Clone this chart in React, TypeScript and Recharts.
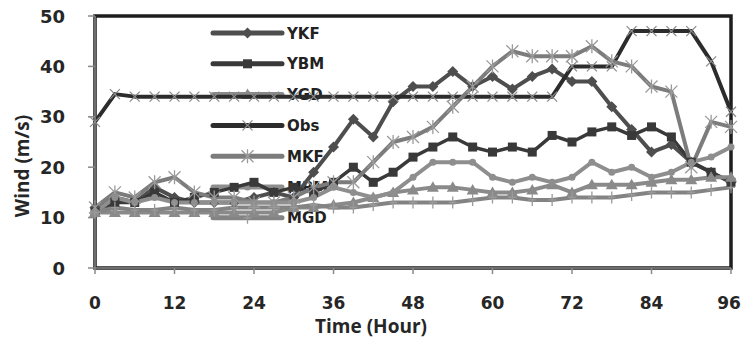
import React from 'react';
import { LineChart, Line, XAxis, YAxis, ReferenceArea, Legend, Label } from 'recharts';

// Forecast hour of each sample (3-hourly)
const hours = [0, 3, 6, 9, 12, 15, 18, 21, 24, 27, 30, 33, 36, 39, 42, 45, 48, 51, 54, 57, 60, 63, 66, 69, 72, 75, 78, 81, 84, 87, 90, 93, 96];

// Wind speed (m/s) per run
const ykf = [12, 14, 13, 16, 14, 13, 13, 13, 14, 15, 14, 19, 24, 29.5, 26, 33, 36, 36, 39, 36, 38, 35.5, 38, 39.5, 37, 37, 32, 27.5, 23, 24.5, 21, 19, 17];
const ybm = [11, 13, 13, 15, 13, 14, 15, 16, 17, 15, 16, 15, 17, 20, 17, 19, 22, 24, 26, 24, 23, 24, 23, 26.3, 25, 27, 28, 26.3, 28, 26, 21, 19, 17];
const ygd = [11, 11, 11, 11, 11, 11, 11, 11, 11, 11, 12, 12, 12.5, 13, 14, 15, 15.5, 16, 16, 15.5, 15, 15, 15.5, 16.5, 15, 16.5, 16.5, 16.5, 17, 17.5, 17.5, 18, 18];
const obs = [29, 34.5, 34, 34, 34, 34, 34, 34, 34, 34, 34, 34, 34, 34, 34, 34, 34, 34, 34, 34, 34, 34, 34, 34, 40, 40, 40, 47, 47, 47, 47, 41, 31];
const mkf = [12, 15, 14, 17, 18, 15, 14, 14, 13, 13, 14, 16, 17, 17, 21, 25, 26, 28, 32, 36, 40, 43, 42, 42, 42, 44, 41, 40, 36, 35, 20, 29, 28];
const mbm = [11, 14, 13, 14, 13, 13, 13, 13, 13, 13, 13, 14, 16, 15, 14, 15, 18, 21, 21, 21, 18, 17, 18, 17, 18, 21, 19, 20, 18, 19, 21, 22, 24];
const mgd = [11, 12, 11.5, 11.5, 12, 11.5, 11.5, 12, 12, 12, 12, 12.5, 12, 12, 12.5, 13, 13, 13, 13, 13.5, 14, 14, 13.5, 13.5, 14, 14, 14, 14.5, 15, 15, 15, 15.5, 16];

const xTicks = [0, 12, 24, 36, 48, 60, 72, 84, 96];
const yTicks = [0, 10, 20, 30, 40, 50];

type MarkerShape = 'diamond' | 'square' | 'triangle' | 'x' | 'star' | 'circle' | 'plus';

interface SeriesDef {
  key: string;
  color: string;
  markerColor: string;
  marker: MarkerShape;
  width: number;
}

const series: SeriesDef[] = [
  { key: 'YKF', color: '#4e4e4e', markerColor: '#4e4e4e', marker: 'diamond', width: 4 },
  { key: 'YBM', color: '#393939', markerColor: '#393939', marker: 'square', width: 3.5 },
  { key: 'YGD', color: '#8a8a8a', markerColor: '#8a8a8a', marker: 'triangle', width: 4 },
  { key: 'Obs', color: '#2c2c2c', markerColor: '#8c8c8c', marker: 'x', width: 4 },
  { key: 'MKF', color: '#7c7c7c', markerColor: '#9a9a9a', marker: 'star', width: 4 },
  { key: 'MBM', color: '#8e8e8e', markerColor: '#8e8e8e', marker: 'circle', width: 4 },
  { key: 'MGD', color: '#838383', markerColor: '#9a9a9a', marker: 'plus', width: 4 },
];

const rows = hours.map((h, i) => ({
  h,
  YKF: ykf[i],
  YBM: ybm[i],
  YGD: ygd[i],
  Obs: obs[i],
  MKF: mkf[i],
  MBM: mbm[i],
  MGD: mgd[i],
}));

function Marker({ shape, cx, cy, color }: { shape: MarkerShape; cx: number; cy: number; color: string }) {
  switch (shape) {
    case 'diamond':
      return <path d={`M${cx},${cy - 5.5}L${cx + 5.5},${cy}L${cx},${cy + 5.5}L${cx - 5.5},${cy}Z`} fill={color} />;
    case 'square':
      return <rect x={cx - 4.5} y={cy - 4.5} width={9} height={9} fill={color} />;
    case 'triangle':
      return <path d={`M${cx},${cy - 6}L${cx + 6},${cy + 4.5}L${cx - 6},${cy + 4.5}Z`} fill={color} />;
    case 'x':
      return (
        <path d={`M${cx - 5},${cy - 5}L${cx + 5},${cy + 5}M${cx - 5},${cy + 5}L${cx + 5},${cy - 5}`} stroke={color} strokeWidth={1.3} fill="none" />
      );
    case 'star':
      return (
        <path
          d={`M${cx - 6},${cy - 6}L${cx + 6},${cy + 6}M${cx - 6},${cy + 6}L${cx + 6},${cy - 6}M${cx},${cy - 7}L${cx},${cy + 7}`}
          stroke={color}
          strokeWidth={1.3}
          fill="none"
        />
      );
    case 'circle':
      return <circle cx={cx} cy={cy} r={3.5} fill={color} />;
    case 'plus':
    default:
      return (
        <path d={`M${cx - 4},${cy}L${cx + 4},${cy}M${cx},${cy - 6}L${cx},${cy + 6}`} stroke={color} strokeWidth={1.3} fill="none" />
      );
  }
}

const makeDot = (s: SeriesDef) => (props: any) => {
  const { cx, cy, index } = props;
  if (cx == null || cy == null) return <g key={`${s.key}-${index}`} />;
  return (
    <g key={`${s.key}-${index}`}>
      <Marker shape={s.marker} cx={cx} cy={cy} color={s.markerColor} />
    </g>
  );
};

const tickFont = { fontFamily: 'DejaVu Sans', fontWeight: 700, fontSize: 17, fill: '#262626' };

const XTick = (props: any) => {
  const { x, y, payload } = props;
  // keep the last label inside the canvas
  const lx = Math.min(x, 741 - 12);
  return (
    <text x={lx} y={y} dy={33} textAnchor="middle" {...tickFont}>
      {payload.value}
    </text>
  );
};

const YTick = (props: any) => {
  const { x, y, payload } = props;
  return (
    <text x={x - 21} y={y} dy={6.5} textAnchor="end" {...tickFont} fontSize={18}>
      {payload.value}
    </text>
  );
};

const LegendBox = () => (
  <svg width={190} height={215} style={{ overflow: 'visible' }}>
    {series.map((s, i) => {
      const y = 15 + i * 30.8;
      return (
        <g key={s.key}>
          <line x1={8} x2={77} y1={y} y2={y} stroke={s.color} strokeWidth={5} strokeLinecap="round" />
          <Marker shape={s.marker} cx={42.5} cy={y} color={s.markerColor} />
          <text x={82} y={y} dy={5.5} fontFamily="DejaVu Sans" fontWeight={700} fontSize={15} fill="#222">
            {s.key}
          </text>
        </g>
      );
    })}
  </svg>
);

export default function App() {
  return (
    <div style={{ position: 'absolute', left: 0, top: 0, width: 741, height: 342 }}>
      <LineChart width={741} height={342} data={rows} margin={{ top: 16, right: 10, bottom: 44, left: 0 }}>
        <XAxis
          dataKey="h"
          type="number"
          domain={[0, 96]}
          ticks={xTicks}
          interval={0}
          tick={<XTick />}
          tickSize={6}
          axisLine={{ stroke: '#8a8a8a', strokeWidth: 1.5 }}
          tickLine={{ stroke: '#8a8a8a', strokeWidth: 1.5 }}
        >
          <Label
            content={() => (
              <text x={371} y={333} textAnchor="middle" fontFamily="Open Sans" fontWeight={700} fontSize={19} fill="#262626">
                Time (Hour)
              </text>
            )}
          />
        </XAxis>
        <YAxis
          width={95}
          domain={[0, 50]}
          ticks={yTicks}
          interval={0}
          tick={<YTick />}
          tickSize={7}
          axisLine={{ stroke: '#8a8a8a', strokeWidth: 1.5 }}
          tickLine={{ stroke: '#8a8a8a', strokeWidth: 1.5 }}
        >
          <Label
            content={() => (
              <text
                x={22}
                y={166}
                transform="rotate(-90 22 166)"
                textAnchor="middle"
                dominantBaseline="central"
                fontFamily="Open Sans"
                fontWeight={700}
                fontSize={19}
                fill="#262626"
              >
                Wind (m/s)
              </text>
            )}
          />
        </YAxis>
        <ReferenceArea x1={0} x2={96} y1={0} y2={50} fill="none" stroke="#1e1e1e" strokeWidth={3.5} />
        <Legend
          layout="horizontal"
          verticalAlign="middle"
          align="center"
          content={<LegendBox />}
          wrapperStyle={{ left: 205, top: 18, width: 190, height: 215, zIndex: -1 }}
        />
        {series.map((s) => (
          <Line
            key={s.key}
            dataKey={s.key}
            type="linear"
            stroke={s.color}
            strokeWidth={s.width}
            strokeLinejoin="round"
            strokeLinecap="round"
            dot={makeDot(s)}
            activeDot={false}
            isAnimationActive={false}
          />
        ))}
      </LineChart>
    </div>
  );
}
